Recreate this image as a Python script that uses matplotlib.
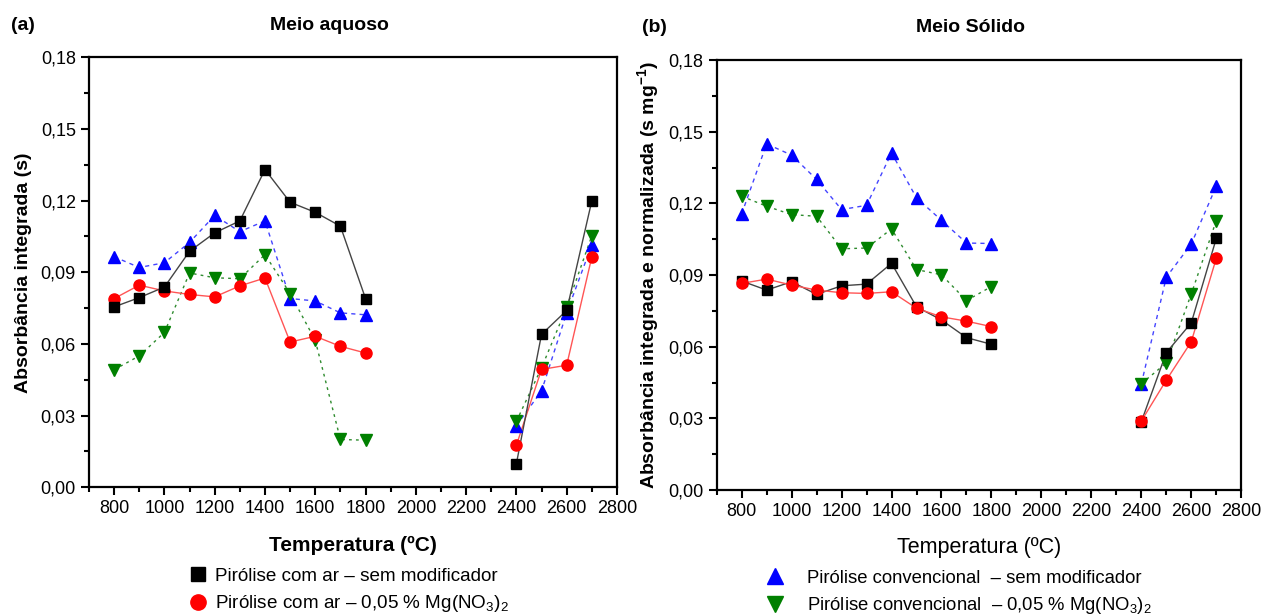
import matplotlib
matplotlib.use('Agg')
import matplotlib.pyplot as plt
from matplotlib.lines import Line2D
from matplotlib.ticker import MultipleLocator, FuncFormatter

plt.rcParams['font.family'] = ['Liberation Sans', 'DejaVu Sans']
plt.rcParams['mathtext.fontset'] = 'custom'
plt.rcParams['mathtext.rm'] = 'Liberation Sans'
plt.rcParams['mathtext.it'] = 'Liberation Sans:italic'
plt.rcParams['mathtext.bf'] = 'Liberation Sans:bold'

# temperatures (two separate ranges)
temp_low = [800, 900, 1000, 1100, 1200, 1300, 1400, 1500, 1600, 1700, 1800]
temp_high = [2400, 2500, 2600, 2700]

# (a) Meio aquoso - integrated absorbance (s)
aq_ar_sem_low = [0.0755, 0.0794, 0.0838, 0.0988, 0.1065, 0.1115, 0.133, 0.1193, 0.1151, 0.1093, 0.079]
aq_ar_sem_high = [0.0099, 0.064, 0.074, 0.1199]
aq_ar_mg_low = [0.079, 0.0846, 0.0822, 0.0807, 0.0797, 0.0843, 0.0876, 0.0608, 0.0632, 0.059, 0.0562]
aq_ar_mg_high = [0.0176, 0.0493, 0.0511, 0.0964]
aq_conv_sem_low = [0.0965, 0.092, 0.094, 0.1025, 0.1138, 0.107, 0.1115, 0.079, 0.078, 0.073, 0.0722]
aq_conv_sem_high = [0.0258, 0.0403, 0.073, 0.1015]
aq_conv_mg_low = [0.0492, 0.055, 0.0648, 0.0897, 0.0877, 0.0873, 0.0974, 0.0811, 0.0615, 0.02, 0.0197]
aq_conv_mg_high = [0.0276, 0.05, 0.0753, 0.1053]

# (b) Meio Solido - integrated and normalized absorbance (s mg-1)
so_ar_sem_low = [0.0875, 0.0837, 0.0872, 0.0819, 0.0855, 0.0862, 0.0949, 0.0767, 0.0712, 0.0638, 0.061]
so_ar_sem_high = [0.0286, 0.0575, 0.07, 0.1053]
so_ar_mg_low = [0.0865, 0.0883, 0.0858, 0.0837, 0.0826, 0.0823, 0.083, 0.0761, 0.0725, 0.0707, 0.0684]
so_ar_mg_high = [0.0289, 0.046, 0.0621, 0.097]
so_conv_sem_low = [0.1156, 0.1449, 0.1402, 0.13, 0.1174, 0.1192, 0.1411, 0.1223, 0.1129, 0.1034, 0.1032]
so_conv_sem_high = [0.0444, 0.0891, 0.103, 0.1272]
so_conv_mg_low = [0.123, 0.1188, 0.1153, 0.1146, 0.101, 0.1013, 0.1093, 0.0923, 0.0901, 0.0793, 0.0852]
so_conv_mg_high = [0.0445, 0.0532, 0.0821, 0.1128]

lab_ar_sem = 'Pirólise com ar – sem modificador'
lab_ar_mg = 'Pirólise com ar – 0,05 % Mg(NO$_3$)$_2$'
lab_conv_sem = 'Pirólise convencional  – sem modificador'
lab_conv_mg = 'Pirólise convencional  – 0,05 % Mg(NO$_3$)$_2$'

# style per series: colour, marker, linestyle, line colour
styles = {
    'ar_sem': dict(color='black', marker='s', ms=7.5, ls='-', lc='#444444'),
    'ar_mg': dict(color='red', marker='o', ms=8, ls='-', lc='#ff5555'),
    'conv_sem': dict(color='blue', marker='^', ms=9, ls=(0, (3, 3)), lc='#4444ff'),
    'conv_mg': dict(color='green', marker='v', ms=9, ls=(0, (2, 3)), lc='#2e8b2e'),
}


def draw(ax, key, ylow, yhigh):
    s = styles[key]
    for xs, ys in ((temp_low, ylow), (temp_high, yhigh)):
        ax.plot(xs, ys, color=s['lc'], linestyle=s['ls'], linewidth=1, zorder=2)
        ax.plot(xs, ys, linestyle='none', marker=s['marker'], markersize=s['ms'],
                markerfacecolor=s['color'], markeredgecolor=s['color'], zorder=3)


def setup(ax):
    ax.set_xlim(700, 2800)
    ax.set_ylim(0, 0.18)
    ax.xaxis.set_major_locator(MultipleLocator(200))
    ax.xaxis.set_minor_locator(MultipleLocator(100))
    ax.yaxis.set_major_locator(MultipleLocator(0.03))
    ax.yaxis.set_minor_locator(MultipleLocator(0.015))
    ax.xaxis.set_major_formatter(FuncFormatter(lambda v, p: '%d' % v if v >= 800 else ''))
    ax.yaxis.set_major_formatter(FuncFormatter(lambda v, p: ('%.2f' % v).replace('.', ',')))
    ax.tick_params(which='major', direction='out', length=6, width=1.5, labelsize=13,
                   top=False, right=False)
    ax.tick_params(which='minor', direction='out', length=3.5, width=1.5, top=False, right=False)
    for sp in ax.spines.values():
        sp.set_linewidth(1.6)


fig = plt.figure(figsize=(12.64, 6.16), dpi=100)
ax1 = fig.add_axes([0.0704, 0.209, 0.4177, 0.698])
ax2 = fig.add_axes([0.567, 0.2045, 0.415, 0.698])

# order: triangles first so black/red sit on top like the reference
draw(ax1, 'conv_sem', aq_conv_sem_low, aq_conv_sem_high)
draw(ax1, 'conv_mg', aq_conv_mg_low, aq_conv_mg_high)
draw(ax1, 'ar_mg', aq_ar_mg_low, aq_ar_mg_high)
draw(ax1, 'ar_sem', aq_ar_sem_low, aq_ar_sem_high)

draw(ax2, 'conv_sem', so_conv_sem_low, so_conv_sem_high)
draw(ax2, 'conv_mg', so_conv_mg_low, so_conv_mg_high)
draw(ax2, 'ar_sem', so_ar_sem_low, so_ar_sem_high)
draw(ax2, 'ar_mg', so_ar_mg_low, so_ar_mg_high)

setup(ax1)
setup(ax2)

ax1.set_ylabel('Absorbância integrada (s)', fontsize=14, fontweight='bold', labelpad=6)
ax1.set_xlabel('Temperatura (ºC)', fontsize=15, fontweight='bold', labelpad=13)
ax2.set_ylabel(r'Absorbância integrada e normalizada (s mg$^{\mathbf{-1}}$)', fontsize=14,
               fontweight='bold', labelpad=5)
ax2.set_xlabel('Temperatura (ºC)', fontsize=15.5, labelpad=12)

fig.text(0.009, 0.958, '(a)', fontsize=14, fontweight='bold', va='center')
fig.text(0.261, 0.958, 'Meio aquoso', fontsize=14, fontweight='bold', va='center', ha='center')
fig.text(0.508, 0.955, '(b)', fontsize=14, fontweight='bold', va='center')
fig.text(0.768, 0.955, 'Meio Sólido', fontsize=14, fontweight='bold', va='center', ha='center')


def proxy(key):
    s = styles[key]
    return Line2D([], [], linestyle='none', marker=s['marker'], markersize=s['ms'] + 3,
                  markerfacecolor=s['color'], markeredgecolor=s['color'])


fig.legend([proxy('ar_sem'), proxy('ar_mg')], [lab_ar_sem, lab_ar_mg],
           loc='upper left', bbox_to_anchor=(0.149, 0.079), frameon=False, fontsize=13.6,
           handlelength=1.0, handletextpad=0.4, labelspacing=0.47, borderpad=0, borderaxespad=0)
fig.legend([proxy('conv_sem'), proxy('conv_mg')], [lab_conv_sem, lab_conv_mg],
           loc='upper left', bbox_to_anchor=(0.606, 0.075), frameon=False, fontsize=13.3,
           handlelength=1.0, handletextpad=1.2, labelspacing=0.47, borderpad=0, borderaxespad=0)

fig.savefig('out.png', dpi=100)
